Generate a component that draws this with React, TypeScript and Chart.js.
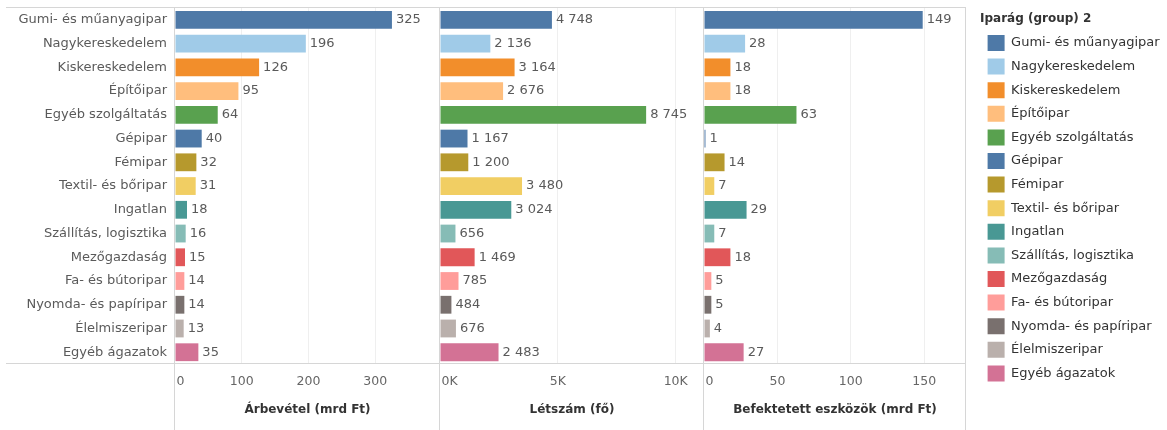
import React, { useEffect, useRef } from 'react';
import { Chart, registerables } from 'chart.js';

Chart.register(...registerables);

const CATEGORIES = [
  'Gumi- és műanyagipar',
  'Nagykereskedelem',
  'Kiskereskedelem',
  'Építőipar',
  'Egyéb szolgáltatás',
  'Gépipar',
  'Fémipar',
  'Textil- és bőripar',
  'Ingatlan',
  'Szállítás, logisztika',
  'Mezőgazdaság',
  'Fa- és bútoripar',
  'Nyomda- és papíripar',
  'Élelmiszeripar',
  'Egyéb ágazatok',
];
const ARBEVETEL = [325, 196, 126, 95, 64, 40, 32, 31, 18, 16, 15, 14, 14, 13, 35];
const LETSZAM = [4748, 2136, 3164, 2676, 8745, 1167, 1200, 3480, 3024, 656, 1469, 785, 484, 676, 2483];
const ESZKOZOK = [149, 28, 18, 18, 63, 1, 14, 7, 29, 7, 18, 5, 5, 4, 27];
const COLORS = [
  '#4e79a7', '#a0cbe8', '#f28e2b', '#ffbe7d', '#59a14f',
  '#4e79a7', '#b6992d', '#f1ce63', '#499894', '#86bcb6',
  '#e15759', '#ff9d9a', '#79706e', '#bab0ac', '#d37295',
];
const X1_TICKS = [0, 100, 200, 300];
const X1_LABELS = ['0', '100', '200', '300'];
const X2_TICKS = [0, 5000, 10000];
const X2_LABELS = ['0K', '5K', '10K'];
const X3_TICKS = [0, 50, 100, 150];
const X3_LABELS = ['0', '50', '100', '150'];
const AXIS_TITLES = ['Árbevétel (mrd Ft)', 'Létszám (fő)', 'Befektetett eszközök (mrd Ft)'];
const LEGEND_TITLE = 'Iparág (group) 2';

const FAMILY = '"DejaVu Sans", "Open Sans", sans-serif';
const FONT_SIZE = 13;
const TITLE_SIZE = 12;
const TEXT_COLOR = '#5a5a5a';

function fmt(v: number): string {
  return String(v).replace(/\B(?=(\d{3})+(?!\d))/g, ' ');
}

function xAxis(max: number, ticks: number[], labels: string[], title: string, weight: number) {
  return {
    type: 'linear',
    position: 'bottom',
    stack: 'panels',
    stackWeight: weight,
    min: 0,
    max,
    afterBuildTicks: (s: any) => {
      s.ticks = ticks.map((v) => ({ value: v }));
    },
    ticks: {
      autoSkip: false,
      maxRotation: 0,
      minRotation: 0,
      padding: 10,
      color: '#666',
      font: { family: FAMILY, size: 12.5 },
      callback: (_v: any, i: number) => labels[i],
    },
    grid: {
      drawTicks: false,
      color: (c: any) => (c.tick && c.tick.value === 0 ? 'rgba(0,0,0,0)' : '#efefef'),
      lineWidth: 1,
    },
    border: { display: false },
    title: {
      display: true,
      text: title,
      color: '#333',
      font: { family: FAMILY, size: TITLE_SIZE, weight: 'bold' },
      padding: { top: 4, bottom: 0 },
    },
  };
}

const valueLabels = {
  id: 'valueLabels',
  afterDatasetsDraw(chart: any) {
    const ctx = chart.ctx;
    ctx.save();
    ctx.font = `${FONT_SIZE}px ${FAMILY}`;
    ctx.fillStyle = TEXT_COLOR;
    ctx.textBaseline = 'middle';
    ctx.textAlign = 'left';
    chart.data.datasets.forEach((ds: any, di: number) => {
      const meta = chart.getDatasetMeta(di);
      meta.data.forEach((el: any, i: number) => {
        ctx.fillText(fmt(ds.data[i]), el.x + 4, el.y);
      });
    });
    ctx.restore();
  },
};

// first tick label of each panel sits just right of the zero line
const firstTickAlign = {
  id: 'firstTickAlign',
  beforeDraw(chart: any) {
    ['x1', 'x2', 'x3'].forEach((id) => {
      const s = chart.scales[id];
      if (!s) return;
      const items = s.getLabelItems(chart.chartArea);
      if (items && items[0] && !items[0]._aligned) {
        items[0].options.textAlign = 'left';
        items[0].options.translation[0] += 1.5;
        items[0]._aligned = true;
      }
    });
  },
};

const frame = {
  id: 'frame',
  beforeDatasetsDraw(chart: any) {
    const { ctx, chartArea: a, scales } = chart;
    ctx.save();
    ctx.strokeStyle = '#d6d6d6';
    ctx.lineWidth = 1;
    const H = chart.height;
    const xs = [a.left, scales.x2.left, scales.x3.left, a.right];
    ctx.beginPath();
    xs.forEach((x: number) => {
      const px = Math.round(x) - 0.5;
      ctx.moveTo(px, Math.round(a.top));
      ctx.lineTo(px, H);
    });
    [a.top, a.bottom].forEach((y: number) => {
      const py = Math.round(y) - 0.5;
      ctx.moveTo(6, py);
      ctx.lineTo(Math.round(a.right), py);
    });
    ctx.stroke();
    ctx.restore();
  },
};

const LEGEND_WIDTH = 201;
const LEGEND_SHIFT = 14;
const legendFix = {
  id: 'legendFix',
  beforeLayout(chart: any) {
    const l = chart.legend;
    if (l && !l._patched) {
      const orig = l.fit.bind(l);
      l.fit = function () {
        orig();
        this.width = LEGEND_WIDTH;
      };
      l._patched = true;
    }
  },
  afterLayout(chart: any) {
    const l = chart.legend;
    if (l) {
      l.left += LEGEND_SHIFT;
      l.right += LEGEND_SHIFT;
    }
  },
};

export default function App() {
  const ref = useRef<HTMLCanvasElement>(null);
  useEffect(() => {
    if (!ref.current) return;
    const chart = new Chart(ref.current, {
      type: 'bar',
      data: {
        labels: CATEGORIES,
        datasets: [
          { label: AXIS_TITLES[0], data: ARBEVETEL, xAxisID: 'x1', backgroundColor: COLORS, grouped: false, barPercentage: 0.75, categoryPercentage: 1, borderWidth: 0 },
          { label: AXIS_TITLES[1], data: LETSZAM, xAxisID: 'x2', backgroundColor: COLORS, grouped: false, barPercentage: 0.75, categoryPercentage: 1, borderWidth: 0 },
          { label: AXIS_TITLES[2], data: ESZKOZOK, xAxisID: 'x3', backgroundColor: COLORS, grouped: false, barPercentage: 0.75, categoryPercentage: 1, borderWidth: 0 },
        ] as any,
      },
      options: {
        indexAxis: 'y',
        animation: false,
        responsive: false,
        maintainAspectRatio: false,
        layout: { padding: { top: 8, bottom: 12.5, left: 0, right: 0 } },
        scales: {
          y: {
            type: 'category',
            grid: { display: false, drawTicks: false },
            border: { display: false },
            ticks: { color: TEXT_COLOR, padding: 8, autoSkip: false, font: { family: FAMILY, size: FONT_SIZE } },
            afterFit: (s: any) => {
              s.width = 175;
              s.paddingTop = 0;
              s.paddingBottom = 0;
            },
          } as any,
          x1: xAxis(397, X1_TICKS, X1_LABELS, AXIS_TITLES[0], 265) as any,
          x2: xAxis(11200, X2_TICKS, X2_LABELS, AXIS_TITLES[1], 264) as any,
          x3: xAxis(178.5, X3_TICKS, X3_LABELS, AXIS_TITLES[2], 262) as any,
        },
        plugins: {
          tooltip: { enabled: false },
          legend: {
            position: 'right',
            align: 'start',
            title: {
              display: true,
              text: LEGEND_TITLE,
              position: 'start',
              color: '#333',
              font: { family: FAMILY, size: TITLE_SIZE, weight: 'bold' },
              padding: { top: 5, bottom: 0 },
            },
            labels: {
              boxWidth: 17,
              boxHeight: 16,
              padding: 7.6,
              color: TEXT_COLOR,
              font: { family: FAMILY, size: FONT_SIZE },
              generateLabels: () =>
                CATEGORIES.map((c, i) => ({
                  text: c,
                  fillStyle: COLORS[i],
                  strokeStyle: COLORS[i],
                  lineWidth: 0,
                  hidden: false,
                  index: i,
                })),
            },
          } as any,
        },
      },
      plugins: [frame, valueLabels, legendFix, firstTickAlign],
    });
    return () => chart.destroy();
  }, []);
  return (
    <div style={{ position: 'absolute', left: 0, top: 0, width: 1167, height: 430, background: '#fff' }}>
      <canvas ref={ref} width={1167} height={430} style={{ display: 'block' }} />
    </div>
  );
}
